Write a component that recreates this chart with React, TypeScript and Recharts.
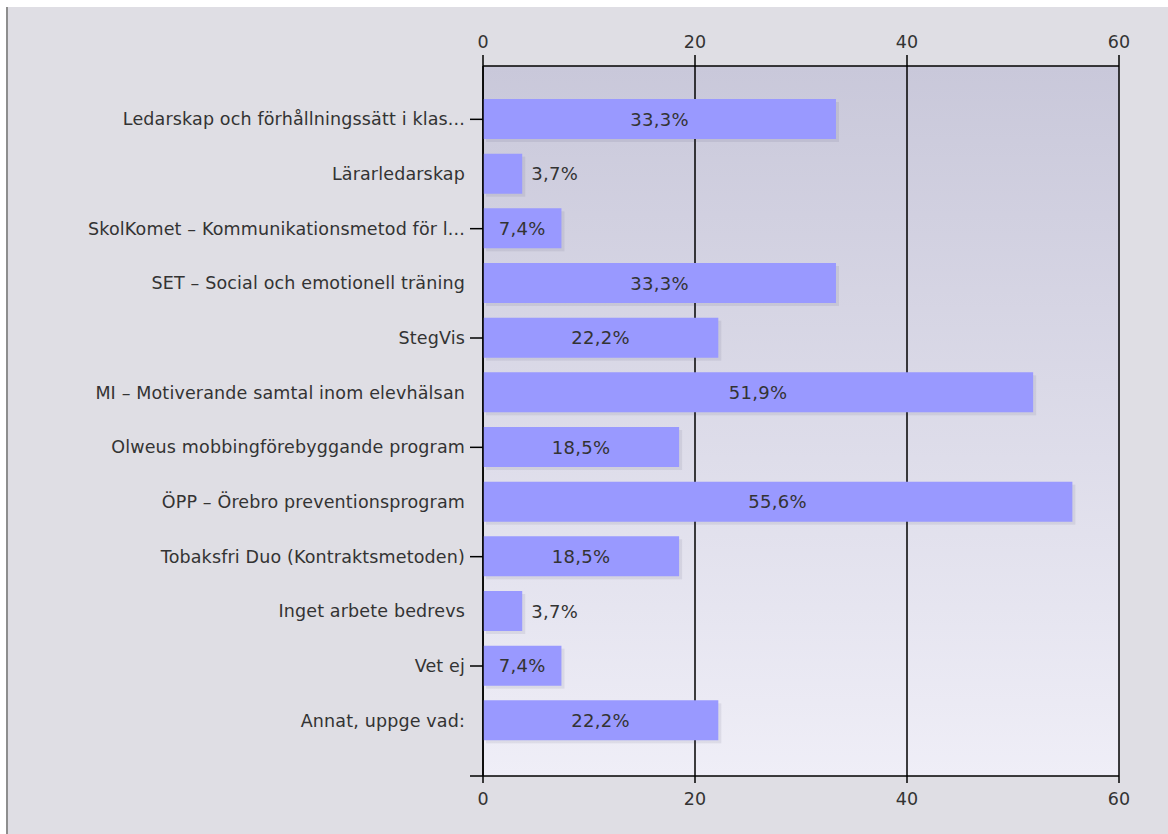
import React from "react";
import { BarChart, Bar, Line, XAxis, YAxis, CartesianGrid, LabelList, Rectangle } from "recharts";

const categories = [
  "Ledarskap och förhållningssätt i klas...",
  "Lärarledarskap",
  "SkolKomet – Kommunikationsmetod för l...",
  "SET – Social och emotionell träning",
  "StegVis",
  "MI – Motiverande samtal inom elevhälsan",
  "Olweus mobbingförebyggande program",
  "ÖPP – Örebro preventionsprogram",
  "Tobaksfri Duo (Kontraktsmetoden)",
  "Inget arbete bedrevs",
  "Vet ej",
  "Annat, uppge vad:",
];
const values = [33.3, 3.7, 7.4, 33.3, 22.2, 51.9, 18.5, 55.6, 18.5, 3.7, 7.4, 22.2];
const xTicks = [0, 20, 40, 60];

const data = categories.map((name, i) => ({ name, value: values[i] }));

const FONT = "'DejaVu Sans', Verdana, sans-serif";
const FS = 17.5;
const LS = 0.15;
const TEXT = "#333";
const AXIS = "#000";

const YTick = (props: any) => {
  const { x, y, payload, index } = props;
  const showTick = index % 2 === 0;
  return (
    <g>
      {showTick && <line x1={x + 5} x2={x + 18} y1={y} y2={y} stroke={AXIS} strokeWidth={1.5} />}
      <text
        x={x}
        y={y}
        dy={6}
        textAnchor="end"
        fill={TEXT}
        fontSize={FS}
        fontFamily={FONT}
        letterSpacing={LS}
      >
        {payload.value}
      </text>
    </g>
  );
};

const makeXTick = (orient: "top" | "bottom") => (props: any) => {
  const { x, y, payload, index } = props;
  return (
    <g>
      {orient === "bottom" && index === 0 && (
        <line x1={x - 13} x2={x} y1={y - 16} y2={y - 16} stroke={AXIS} strokeWidth={1.5} />
      )}
      <text
        x={x}
        y={y}
        dy={orient === "top" ? 0 : 13}
        textAnchor="middle"
        fill={TEXT}
        fontSize={FS}
        fontFamily={FONT}
      >
        {payload.value}
      </text>
    </g>
  );
};
const TopTick = makeXTick("top");
const BottomTick = makeXTick("bottom");

const BarShape = (props: any) => {
  const { x, y, width, height } = props;
  return (
    <g>
      <rect x={x + 3} y={y + 3} width={width} height={height} fill="rgba(60,60,90,0.09)" />
      <Rectangle x={x} y={y} width={width} height={height} fill="#9999ff" />
    </g>
  );
};

const BarLabel = (props: any) => {
  const { x, y, width, height, value } = props;
  const txt = String(value).replace(".", ",") + "%";
  const inside = width > 62;
  const tx = inside ? x + width / 2 : x + width + 9;
  return (
    <text
      x={tx}
      y={y + height / 2}
      dy={6.5}
      textAnchor={inside ? "middle" : "start"}
      fill={TEXT}
      fontSize={18}
      fontFamily={FONT}
      letterSpacing={0.3}
    >
      {txt}
    </text>
  );
};

export default function App() {
  return (
    <div style={{ position: "absolute", left: 0, top: 0, width: 1168, height: 834, background: "#fff" }}>
      <div
        style={{
          position: "absolute",
          left: 6,
          top: 7,
          right: 0,
          bottom: 0,
          background: "#dfdee4",
          borderLeft: "2px solid #8e8e8e",
        }}
      />
      <div style={{ position: "absolute", left: 0, top: 0 }}>
        <BarChart
          width={1168}
          height={834}
          data={data}
          layout="vertical"
          margin={{ top: 36, right: 49, bottom: 28, left: 10 }}
          barCategoryGap={0}
        >
          <defs>
            <linearGradient id="plotBg" x1="0" y1="0" x2="0" y2="1">
              <stop offset="0%" stopColor="#c9c8da" />
              <stop offset="100%" stopColor="#efeef7" />
            </linearGradient>
          </defs>
          <CartesianGrid
            xAxisId="bottom"
            horizontal={false}
            vertical={true}
            stroke={AXIS}
            strokeWidth={1.5}
            fill="url(#plotBg)"
            fillOpacity={1}
            verticalValues={xTicks}
          />
          <XAxis
            xAxisId="top"
            orientation="top"
            type="number"
            domain={[0, 60]}
            ticks={xTicks}
            height={30}
            tickSize={11}
            tickMargin={7}
            axisLine={{ stroke: AXIS, strokeWidth: 1.5 }}
            tickLine={{ stroke: AXIS, strokeWidth: 1.5 }}
            tick={<TopTick />}
          />
          <XAxis
            xAxisId="bottom"
            orientation="bottom"
            type="number"
            domain={[0, 60]}
            ticks={xTicks}
            height={30}
            tickSize={7}
            tickMargin={9}
            axisLine={{ stroke: AXIS, strokeWidth: 1.5 }}
            tickLine={{ stroke: AXIS, strokeWidth: 1.5 }}
            tick={<BottomTick />}
          />
          <YAxis
            type="category"
            dataKey="name"
            width={473}
            tickSize={13}
            tickMargin={5}
            tickLine={false}
            interval={0}
            padding={{ top: 26, bottom: 28 }}
            axisLine={{ stroke: AXIS, strokeWidth: 1.5 }}
            tick={<YTick />}
          />
          <Bar
            xAxisId="bottom"
            dataKey="value"
            barSize={40}
            shape={<BarShape />}
            isAnimationActive={false}
          >
            <LabelList dataKey="value" content={<BarLabel />} />
          </Bar>
          <Line
            xAxisId="top"
            dataKey="value"
            stroke="none"
            dot={false}
            activeDot={false}
            legendType="none"
            isAnimationActive={false}
          />
        </BarChart>
      </div>
    </div>
  );
}
